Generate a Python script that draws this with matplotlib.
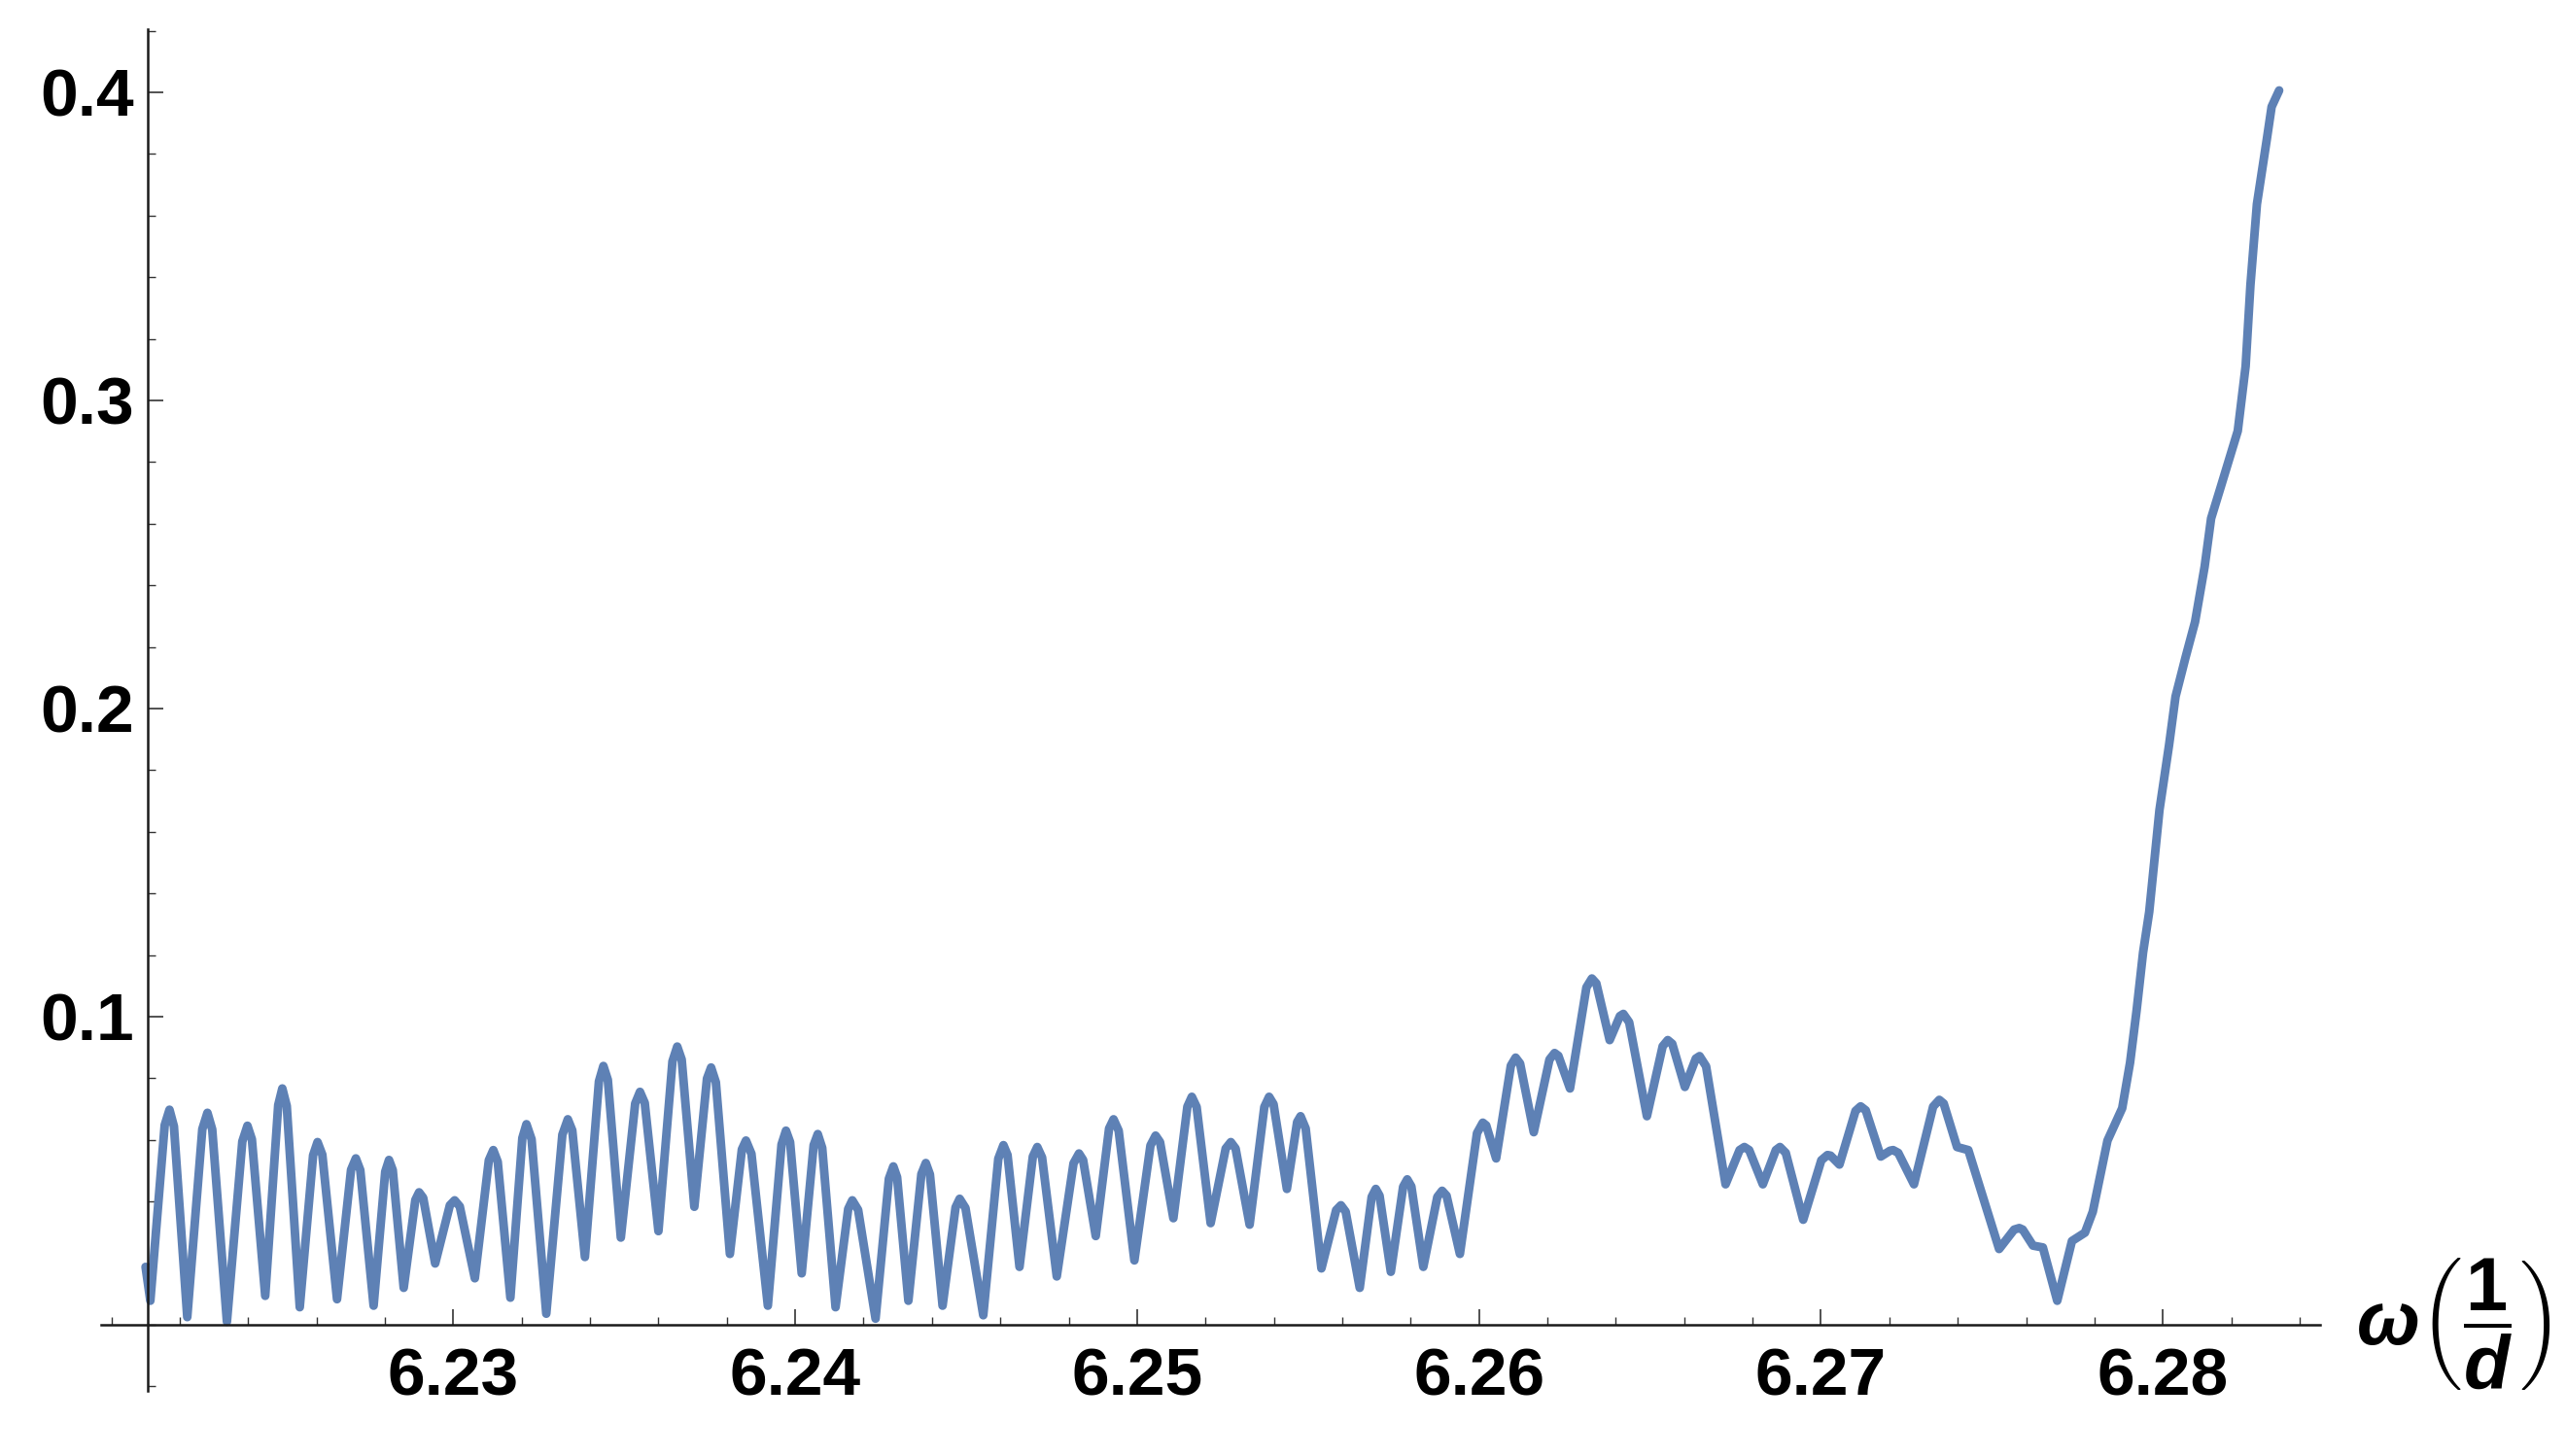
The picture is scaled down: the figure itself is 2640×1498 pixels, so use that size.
import matplotlib
matplotlib.use("Agg")
import matplotlib.pyplot as plt
from matplotlib.ticker import MultipleLocator, FixedLocator

# ---------------- data ----------------
omega = [
    6.22100, 6.22114, 6.22156, 6.22170, 6.22183, 6.22222, 6.22266, 6.22281,
    6.22295, 6.22338, 6.22383, 6.22398, 6.22411, 6.22450, 6.22488, 6.22500,
    6.22513, 6.22551, 6.22590, 6.22603, 6.22617, 6.22660, 6.22701, 6.22715,
    6.22728, 6.22767, 6.22801, 6.22812, 6.22823, 6.22855, 6.22889, 6.22900,
    6.22912, 6.22947, 6.22990, 6.23004, 6.23019, 6.23063, 6.23104, 6.23117,
    6.23130, 6.23167, 6.23202, 6.23214, 6.23229, 6.23272, 6.23319, 6.23335,
    6.23348, 6.23385, 6.23426, 6.23439, 6.23452, 6.23490, 6.23532, 6.23546,
    6.23560, 6.23600, 6.23641, 6.23655, 6.23668, 6.23705, 6.23742, 6.23754,
    6.23768, 6.23809, 6.23844, 6.23856, 6.23872, 6.23920, 6.23960, 6.23973,
    6.23985, 6.24019, 6.24054, 6.24066, 6.24079, 6.24118, 6.24155, 6.24167,
    6.24184, 6.24235, 6.24274, 6.24287, 6.24298, 6.24331, 6.24369, 6.24382,
    6.24394, 6.24431, 6.24469, 6.24481, 6.24498, 6.24550, 6.24594, 6.24609,
    6.24621, 6.24656, 6.24695, 6.24708, 6.24722, 6.24765, 6.24814, 6.24830,
    6.24842, 6.24879, 6.24918, 6.24931, 6.24946, 6.24992, 6.25039, 6.25054,
    6.25067, 6.25106, 6.25147, 6.25160, 6.25174, 6.25215, 6.25259, 6.25274,
    6.25288, 6.25329, 6.25372, 6.25386, 6.25399, 6.25438, 6.25468, 6.25478,
    6.25493, 6.25539, 6.25582, 6.25596, 6.25610, 6.25651, 6.25686, 6.25698,
    6.25709, 6.25742, 6.25778, 6.25790, 6.25802, 6.25837, 6.25878, 6.25892,
    6.25905, 6.25944, 6.25994, 6.26011, 6.26021, 6.26050, 6.26093, 6.26107,
    6.26120, 6.26160, 6.26206, 6.26221, 6.26232, 6.26266, 6.26314, 6.26330,
    6.26343, 6.26382, 6.26412, 6.26422, 6.26439, 6.26491, 6.26537, 6.26552,
    6.26565, 6.26602, 6.26634, 6.26645, 6.26664, 6.26721, 6.26762, 6.26776,
    6.26790, 6.26830, 6.26868, 6.26880, 6.26897, 6.26948, 6.27001, 6.27019,
    6.27028, 6.27054, 6.27101, 6.27116, 6.27131, 6.27175, 6.27202, 6.27211,
    6.27226, 6.27272, 6.27328, 6.27346, 6.27359, 6.27398, 6.27431, 6.27521,
    6.27565, 6.27580, 6.27590, 6.27620, 6.27649, 6.27691, 6.27734, 6.27772,
    6.27795, 6.27838, 6.27881, 6.27904, 6.27923, 6.27942, 6.27960, 6.27990,
    6.28018, 6.28037, 6.28066, 6.28094, 6.28122, 6.28141, 6.28170, 6.28219,
    6.28242, 6.28256, 6.28275, 6.28304, 6.28318, 6.28340,
]
value = [
    0.0188, 0.0078, 0.0648, 0.0698, 0.0644, 0.0025, 0.0635, 0.0688,
    0.0634, 0.0010, 0.0595, 0.0646, 0.0602, 0.0094, 0.0713, 0.0767,
    0.0710, 0.0057, 0.0550, 0.0593, 0.0552, 0.0083, 0.0503, 0.0540,
    0.0502, 0.0062, 0.0497, 0.0535, 0.0502, 0.0120, 0.0405, 0.0430,
    0.0412, 0.0199, 0.0388, 0.0404, 0.0384, 0.0151, 0.0534, 0.0567,
    0.0529, 0.0088, 0.0606, 0.0651, 0.0602, 0.0036, 0.0617, 0.0667,
    0.0631, 0.0220, 0.0790, 0.0840, 0.0795, 0.0283, 0.0718, 0.0756,
    0.0720, 0.0304, 0.0855, 0.0903, 0.0861, 0.0383, 0.0799, 0.0835,
    0.0787, 0.0230, 0.0569, 0.0598, 0.0555, 0.0062, 0.0585, 0.0630,
    0.0593, 0.0167, 0.0583, 0.0619, 0.0574, 0.0057, 0.0376, 0.0404,
    0.0373, 0.0020, 0.0474, 0.0514, 0.0479, 0.0078, 0.0489, 0.0525,
    0.0488, 0.0062, 0.0381, 0.0409, 0.0379, 0.0031, 0.0539, 0.0583,
    0.0551, 0.0188, 0.0546, 0.0577, 0.0543, 0.0157, 0.0524, 0.0556,
    0.0535, 0.0288, 0.0637, 0.0667, 0.0630, 0.0209, 0.0582, 0.0614,
    0.0593, 0.0346, 0.0708, 0.0740, 0.0707, 0.0330, 0.0572, 0.0593,
    0.0572, 0.0325, 0.0707, 0.0740, 0.0716, 0.0441, 0.0658, 0.0677,
    0.0637, 0.0183, 0.0372, 0.0388, 0.0367, 0.0120, 0.0415, 0.0441,
    0.0419, 0.0172, 0.0448, 0.0472, 0.0449, 0.0188, 0.0415, 0.0435,
    0.0419, 0.0230, 0.0622, 0.0656, 0.0647, 0.0540, 0.0841, 0.0867,
    0.0848, 0.0625, 0.0861, 0.0882, 0.0873, 0.0767, 0.1095, 0.1124,
    0.1108, 0.0924, 0.1002, 0.1009, 0.0982, 0.0677, 0.0904, 0.0924,
    0.0912, 0.0772, 0.0864, 0.0872, 0.0839, 0.0456, 0.0567, 0.0577,
    0.0567, 0.0456, 0.0567, 0.0577, 0.0558, 0.0341, 0.0534, 0.0551,
    0.0549, 0.0520, 0.0694, 0.0709, 0.0696, 0.0546, 0.0565, 0.0567,
    0.0558, 0.0456, 0.0708, 0.0730, 0.0718, 0.0577, 0.0567, 0.0246,
    0.0309, 0.0314, 0.0309, 0.0257, 0.0251, 0.0078, 0.0272, 0.0299,
    0.0367, 0.0598, 0.0703, 0.0851, 0.1019, 0.1208, 0.1340, 0.1671,
    0.1881, 0.2039, 0.2165, 0.2281, 0.2460, 0.2617, 0.2722, 0.2901,
    0.3111, 0.3374, 0.3637, 0.3848, 0.3953, 0.4006,
]
x_major = [6.23, 6.24, 6.25, 6.26, 6.27, 6.28]
x_labels = ["6.23", "6.24", "6.25", "6.26", "6.27", "6.28"]
y_major = [0.1, 0.2, 0.3, 0.4]
y_labels = ["0.1", "0.2", "0.3", "0.4"]

# ---------------- styling ----------------
plt.rcParams["font.family"] = ["Liberation Sans", "DejaVu Sans"]
plt.rcParams["mathtext.fontset"] = "custom"
plt.rcParams["mathtext.rm"] = "Liberation Sans:bold"
plt.rcParams["mathtext.bf"] = "Liberation Sans:bold"
plt.rcParams["mathtext.it"] = "Liberation Sans:italic:bold"

fig = plt.figure(figsize=(26.4, 14.98), dpi=100)
ax = fig.add_axes([0.0394, 0.0444, 0.9042 - 0.0394, 0.980 - 0.0444])

ax.plot(omega, value, color="#5E81B5", lw=6.4,
        solid_joinstyle="round", solid_capstyle="round")

ax.set_xlim(6.2197, 6.2846)
ax.set_ylim(-0.0216, 0.4205)

for s in ("top", "right"):
    ax.spines[s].set_visible(False)
ax.spines["left"].set_position(("data", 6.22105))
ax.spines["bottom"].set_position(("data", 0.0))
for s in ("left", "bottom"):
    ax.spines[s].set_linewidth(1.8)
    ax.spines[s].set_color("#1a1a1a")

ax.xaxis.set_major_locator(FixedLocator(x_major))
ax.set_xticklabels(x_labels)
ax.xaxis.set_minor_locator(MultipleLocator(0.002))
ax.yaxis.set_major_locator(FixedLocator(y_major))
ax.set_yticklabels(y_labels)
ax.yaxis.set_minor_locator(MultipleLocator(0.02))

ax.tick_params(which="major", direction="in", length=11.5, width=1.2,
               color="#333333", labelsize=50)
ax.tick_params(which="minor", direction="in", length=5.8, width=1.0,
               color="#333333")
ax.tick_params(axis="x", which="major", pad=16)
ax.tick_params(axis="y", which="major", pad=10)
for lbl in ax.get_xticklabels() + ax.get_yticklabels():
    lbl.set_fontweight("bold")

fig.text(0.918, 0.0901, r"$\omega\left(\dfrac{1}{d}\right)$",
         fontsize=56, ha="left", va="center")

fig.savefig("out.png", dpi=100, facecolor="white")
